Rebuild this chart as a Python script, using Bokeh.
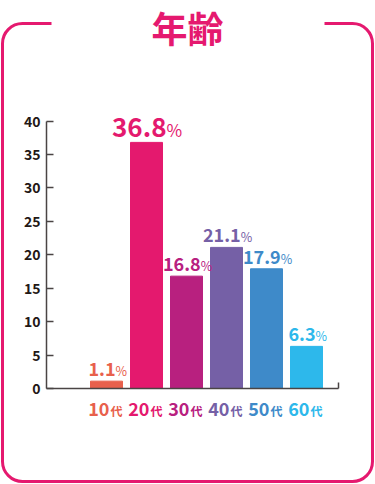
from bokeh.plotting import figure
from bokeh.models import ColumnDataSource, FixedTicker, LabelSet, Label, BoxAnnotation
from bokeh.core.properties import value, field
from bokeh.embed import file_html
from bokeh.resources import INLINE

# ---- data ----
title_text = "年齢"
age_numbers = ["10", "20", "30", "40", "50", "60"]
age_suffix = "代"
percentages = [1.1, 36.8, 16.8, 21.1, 17.9, 6.3]
bar_colors = ["#E8604C", "#E4196E", "#B8207F", "#7560A6", "#3E8AC9", "#2DB8EB"]
y_ticks = [0, 5, 10, 15, 20, 25, 30, 35, 40]

# ---- style / layout (pixels) ----
FONT = "Noto Sans CJK JP"
PINK = "#E5196F"
DARK = "#231815"
AXIS = "#4a4444"
W, H = 375, 484
AXIS_X, AXIS_Y = 46, 388          # pixel position of the data origin
PX_PER_UNIT_Y = 6.6875
PX_PER_SLOT = 40.0
AXIS_END = 7.3                    # x-axis length in slots

x_range = (-AXIS_X / PX_PER_SLOT, (W - AXIS_X) / PX_PER_SLOT)
y_range = (-(H - AXIS_Y) / PX_PER_UNIT_Y, AXIS_Y / PX_PER_UNIT_Y)

x_pos = [i + 1.5 for i in range(len(percentages))]
vmax = max(percentages)
num_fs = [26 if v == vmax else 18 for v in percentages]
pct_fs = [17 if v == vmax else 12.5 for v in percentages]


def est_w(s, fs):
    return sum(0.28 if c == "." else 0.56 for c in s) * fs


num_txt = [f"{v:.1f}" for v in percentages]
junction = [(est_w(t, a) - 0.88 * b) / 2 + 2 for t, a, b in zip(num_txt, num_fs, pct_fs)]

src = ColumnDataSource(dict(
    x=x_pos, top=percentages, color=bar_colors, num=num_txt,
    pct=["%"] * len(percentages),
    nfs=[f"{s}px" for s in num_fs], pfs=[f"{s}px" for s in pct_fs],
    jx=junction, age=age_numbers, suf=[age_suffix] * len(percentages),
    y0=[0] * len(percentages),
))

p = figure(width=W, height=H, x_range=x_range, y_range=y_range,
           output_backend="svg", toolbar_location=None,
           min_border=0, min_border_left=0, min_border_right=0,
           min_border_top=0, min_border_bottom=0)
p.outline_line_color = None
p.grid.visible = False
p.background_fill_color = "white"
p.border_fill_color = "white"

# decorative frame
p.add_layout(BoxAnnotation(left=2, right=W - 3, top=23, bottom=H - 3,
                           left_units="canvas", right_units="canvas",
                           top_units="canvas", bottom_units="canvas",
                           fill_color=None, fill_alpha=0, line_color=PINK,
                           line_alpha=1, line_width=3, border_radius=20))
p.add_layout(BoxAnnotation(left=51, right=324, top=16, bottom=30,
                           left_units="canvas", right_units="canvas",
                           top_units="canvas", bottom_units="canvas",
                           fill_color="white", fill_alpha=1, line_color=None,
                           line_alpha=0))

p.vbar(x="x", top="top", width=0.8, color="color", source=src)

# y axis
ya = p.yaxis[0]
ya.fixed_location = 0
ya.ticker = FixedTicker(ticks=y_ticks)
ya.bounds = (0, 40)
ya.major_tick_in = 7
ya.major_tick_out = 0
ya.minor_tick_in = 0
ya.minor_tick_out = 0
ya.axis_line_width = 1.5
ya.axis_line_color = AXIS
ya.major_tick_line_width = 1.5
ya.major_tick_line_color = AXIS
ya.major_label_text_font = FONT
ya.major_label_text_font_style = "bold"
ya.major_label_text_font_size = "14px"
ya.major_label_text_color = DARK
ya.major_label_standoff = 6

# x axis
xa = p.xaxis[0]
xa.fixed_location = 0
xa.ticker = FixedTicker(ticks=[AXIS_END])
xa.major_label_overrides = {AXIS_END: " "}
xa.bounds = (0, AXIS_END)
xa.major_tick_in = 6
xa.major_tick_out = 0
xa.minor_tick_in = 0
xa.minor_tick_out = 0
xa.axis_line_width = 1.5
xa.axis_line_color = AXIS
xa.major_tick_line_width = 1.5
xa.major_tick_line_color = AXIS

# value labels
p.add_layout(LabelSet(x="x", y="top", text="num", source=src, x_offset="jx", y_offset=5,
                      text_align="right", text_baseline="alphabetic",
                      text_font=value(FONT), text_font_style="bold",
                      text_font_size=field("nfs"), text_color="color"))
p.add_layout(LabelSet(x="x", y="top", text="pct", source=src, x_offset="jx", y_offset=5,
                      text_align="left", text_baseline="alphabetic",
                      text_font=value(FONT), text_font_size=field("pfs"),
                      text_color="color"))

# category labels
p.add_layout(LabelSet(x="x", y="y0", text="age", source=src, x_offset=3, y_offset=-27,
                      text_align="right", text_baseline="alphabetic",
                      text_font=value(FONT), text_font_style="bold", text_font_size="18px",
                      text_color="color"))
p.add_layout(LabelSet(x="x", y="y0", text="suf", source=src, x_offset=4, y_offset=-27,
                      text_align="left", text_baseline="alphabetic",
                      text_font=value(FONT), text_font_style="bold", text_font_size="12px",
                      text_color="color"))

# title
p.add_layout(Label(x=187, y=26, x_units="canvas", y_units="canvas", text=title_text,
                   text_align="center", text_baseline="middle",
                   text_font=FONT, text_font_style="bold", text_font_size="36px",
                   text_color=PINK))

open("out.html", "w").write(file_html(p, INLINE))
